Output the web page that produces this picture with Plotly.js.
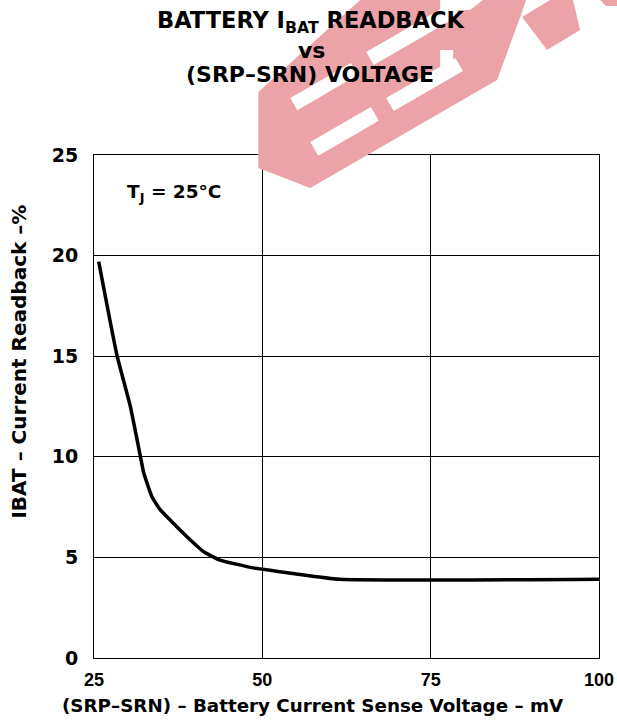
<!DOCTYPE html>
<html>
<head>
<meta charset="utf-8">
<script src="https://cdn.plot.ly/plotly-3.0.1.min.js"></script>
<style>html,body{margin:0;padding:0;background:#fff}#chart{width:617px;height:724px}</style>
</head>
<body>
<div id="chart"></div>
<script>
// Data
const senseVoltage_mV = [25.7, 28.4, 30.4, 31.9, 32.4, 33.6, 34.85, 36.3, 38.8, 41.3, 43.7, 48.6, 52.6, 61.5, 100];
const currentReadback_pct = [19.7, 15.06, 12.5, 10.0, 9.18, 8.02, 7.36, 6.86, 6.03, 5.28, 4.87, 4.48, 4.29, 3.91, 3.91];
const xTicks = [25, 50, 75, 100];
const yTicks = [0, 5, 10, 15, 20, 25];

const ARIAL = 'Liberation Sans, Arial, Helvetica, sans-serif';
const WIDE = 'DejaVu Sans, Verdana, sans-serif';
const W = 617, H = 724;
const L = 93.5, R = 599, T = 155, B = 658;
// pixel -> paper helpers for the decorative watermark
const px = x => (x - L) / (R - L);
const py = y => (B - y) / (B - T);
function poly(pts) {
  return 'M ' + pts.map(p => px(p[0]).toFixed(4) + ',' + py(p[1]).toFixed(4)).join(' L ') + ' Z';
}
const ang = 30 * Math.PI / 180;
function strip(x0, y0, len, th) {
  const dx = Math.cos(ang), dy = -Math.sin(ang);
  const nx = Math.sin(ang), ny = Math.cos(ang);
  return poly([[x0, y0], [x0 + dx * len, y0 + dy * len],
               [x0 + dx * len + nx * th, y0 + dy * len + ny * th], [x0 + nx * th, y0 + ny * th]]);
}
const pink = '#eca3a7';
function wm(path, color) {
  return {type: 'path', xref: 'paper', yref: 'paper', layer: 'above', opacity: 1,
          line: {width: 0}, fillcolor: color, path: path};
}
const shapes = [
  wm(poly([[258, 92], [258, 168], [310, 188], [497, 80], [522, 12], [526, 0], [360, 0]]), pink),
  wm(poly([[522, 17], [550, 0], [573, 0], [580, 30], [547, 50]]), pink),
  wm(poly([[600, 0], [617, 0], [617, 6], [606, 6]]), pink),
  wm(strip(366, 52, 100, 15), '#ffffff'),
  wm(strip(386, 98, 80, 15), '#ffffff'),
  wm(strip(290, 98, 70, 14), '#ffffff'),
  wm(strip(310, 142, 70, 16), '#ffffff'),
  wm(poly([[440, 0], [483, 0], [470, 10], [440, 10]]), '#ffffff'),
  wm(poly([[440, 50], [453, 50], [453, 77], [440, 77]]), '#ffffff')
];

const trace = {
  x: senseVoltage_mV, y: currentReadback_pct, type: 'scatter', mode: 'lines',
  line: {color: '#000', width: 3.5, shape: 'spline', smoothing: 0.4},
  hoverinfo: 'skip'
};

const clear = 'rgba(0,0,0,0)';
function note(x, y, text, font, extra) {
  return Object.assign({xref: 'paper', yref: 'paper', x: px(x), y: py(y), xanchor: 'center', yanchor: 'middle',
    showarrow: false, bgcolor: clear, bordercolor: clear, borderwidth: 0, text: text, font: font}, extra || {});
}

const layout = {
  width: W, height: H,
  margin: {l: L, r: W - R, t: T, b: H - B, pad: 0},
  paper_bgcolor: '#fff', plot_bgcolor: 'rgba(0,0,0,0)',
  showlegend: false,
  font: {family: ARIAL, color: '#000'},
  xaxis: {
    range: [25, 100], tickvals: xTicks, ticktext: xTicks.map(String),
    showgrid: true, gridcolor: '#000', gridwidth: 1, zeroline: false,
    showline: true, linecolor: '#000', linewidth: 1, mirror: true,
    ticks: '', tickfont: {family: ARIAL, size: 18, color: '#000', weight: 'bold'}, ticklabelstandoff: 5
  },
  yaxis: {
    range: [0, 25], tickvals: yTicks, ticktext: yTicks.map(String),
    showgrid: true, gridcolor: '#000', gridwidth: 1, zeroline: false,
    showline: true, linecolor: '#000', linewidth: 1, mirror: true,
    ticks: '', tickfont: {family: WIDE, size: 19, color: '#000', weight: 'bold'}, ticklabelstandoff: 11
  },
  shapes: shapes,
  annotations: [
    note(311, 22, 'BATTERY I<sub>BAT</sub> READBACK', {family: WIDE, size: 22.5, color: '#000', weight: 'bold'}),
    note(311, 50, 'vs', {family: WIDE, size: 22, color: '#000', weight: 'bold'}),
    note(310, 75, '(SRP–SRN) VOLTAGE', {family: WIDE, size: 22, color: '#000', weight: 'bold'}),
    note(126, 193, 'T<sub>J</sub> = 25°C', {family: WIDE, size: 18.5, color: '#000', weight: 'bold'}, {xanchor: 'left'}),
    note(313, 705, '(SRP–SRN) – Battery Current Sense Voltage – mV', {family: WIDE, size: 18.3, color: '#000', weight: 'bold'}),
    note(18, 362, 'IBAT – Current Readback –%', {family: WIDE, size: 20, color: '#000', weight: 'bold'}, {textangle: -90})
  ]
};

Plotly.newPlot('chart', [trace], layout, {displayModeBar: false, staticPlot: true});
</script>
</body>
</html>
